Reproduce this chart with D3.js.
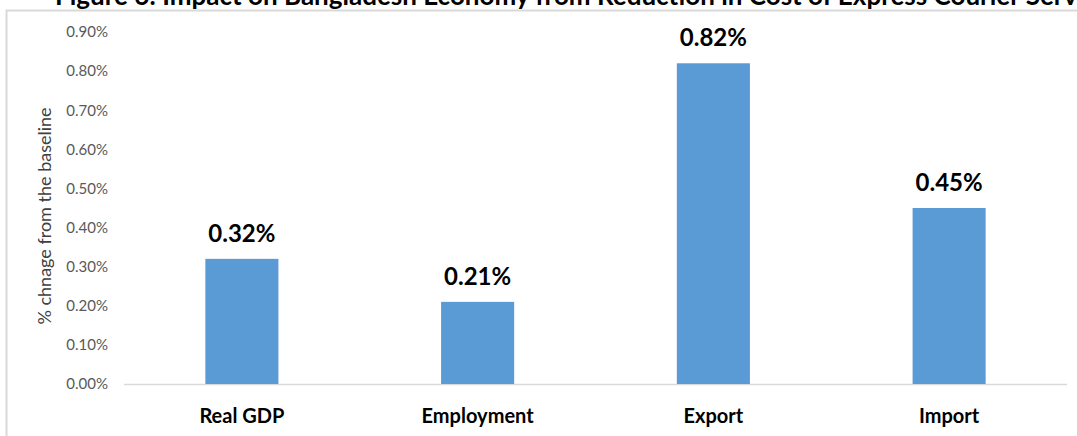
<!DOCTYPE html>
<html>
<head>
<meta charset="utf-8">
<script src="https://cdn.jsdelivr.net/npm/d3@7"></script>
<style>
  body { margin: 0; background: #fff; }
  svg { display: block; font-family: Lato, "Open Sans", sans-serif; }
</style>
</head>
<body>
<div id="chart"></div>
<script>
// Chart data
const categories = ["Real GDP", "Employment", "Export", "Import"];
const values = [0.32, 0.21, 0.82, 0.45];
const yTicks = [0, 0.1, 0.2, 0.3, 0.4, 0.5, 0.6, 0.7, 0.8, 0.9];
const title = "Figure 6: Impact on Bangladesh Economy from Reduction in Cost of Express Courier Services";
const yTitle = "% chnage from the baseline";

const W = 1077, H = 436;
const margin = { top: 32, right: 10, bottom: 52, left: 124 };
const width = 1067 - margin.left;
const height = 384 - margin.top;

const svg = d3.select("#chart")
    .append("svg")
    .attr("width", W)
    .attr("height", H);

// Outer chart frame (top and left edges visible)
svg.append("path")
    .attr("d", `M6.5,${H} V10.5 H${W}`)
    .attr("fill", "none")
    .attr("stroke", "#d9d9d9")
    .attr("stroke-width", 2);

// Title, clipped at top like the reference
svg.append("text")
    .attr("x", 55)
    .attr("y", 5)
    .attr("font-size", 26)
    .attr("font-weight", "bold")
    .attr("fill", "#000")
    .text(title);

const g = svg.append("g")
    .attr("transform", `translate(${margin.left},${margin.top})`);

// Scales
const x = d3.scaleBand()
    .domain(categories)
    .range([0, width])
    .paddingInner(0.69)
    .paddingOuter(0.345);

const y = d3.scaleLinear()
    .domain([0, 0.9])
    .range([height, 0]);

// Y axis (labels only)
const yAxis = g.append("g")
    .call(d3.axisLeft(y).tickValues(yTicks).tickSize(0).tickPadding(16)
        .tickFormat(d => d.toFixed(2) + "%"));
yAxis.select(".domain").remove();
yAxis.selectAll("text")
    .attr("font-family", "Lato, 'Open Sans', sans-serif")
    .attr("font-size", 15)
    .attr("fill", "#595959");

// Baseline
g.append("line")
    .attr("x1", 0)
    .attr("x2", width)
    .attr("y1", y(0) + 0.5)
    .attr("y2", y(0) + 0.5)
    .attr("stroke", "#d9d9d9")
    .attr("stroke-width", 1.5);

// Bars
g.selectAll(".bar")
    .data(values)
    .enter()
    .append("rect")
    .attr("class", "bar")
    .attr("x", (d, i) => x(categories[i]))
    .attr("y", d => y(d))
    .attr("width", x.bandwidth())
    .attr("height", d => y(0) - y(d))
    .attr("fill", "#5b9bd5");

// Value labels
g.selectAll(".label")
    .data(values)
    .enter()
    .append("text")
    .attr("class", "label")
    .attr("x", (d, i) => x(categories[i]) + x.bandwidth() / 2)
    .attr("y", d => y(d) - 17)
    .attr("text-anchor", "middle")
    .attr("font-size", 24)
    .attr("font-weight", "bold")
    .attr("fill", "#000")
    .text(d => d.toFixed(2) + "%");

// Category labels
g.selectAll(".cat")
    .data(categories)
    .enter()
    .append("text")
    .attr("class", "cat")
    .attr("x", d => x(d) + x.bandwidth() / 2)
    .attr("y", height + 39)
    .attr("text-anchor", "middle")
    .attr("font-size", 20)
    .attr("font-weight", "bold")
    .attr("fill", "#000")
    .text(d => d);

// Y axis title
svg.append("text")
    .attr("transform", `translate(51,${margin.top + height / 2 + 8}) rotate(-90)`)
    .attr("text-anchor", "middle")
    .attr("font-size", 18)
    .attr("fill", "#404040")
    .text(yTitle);
</script>
</body>
</html>
